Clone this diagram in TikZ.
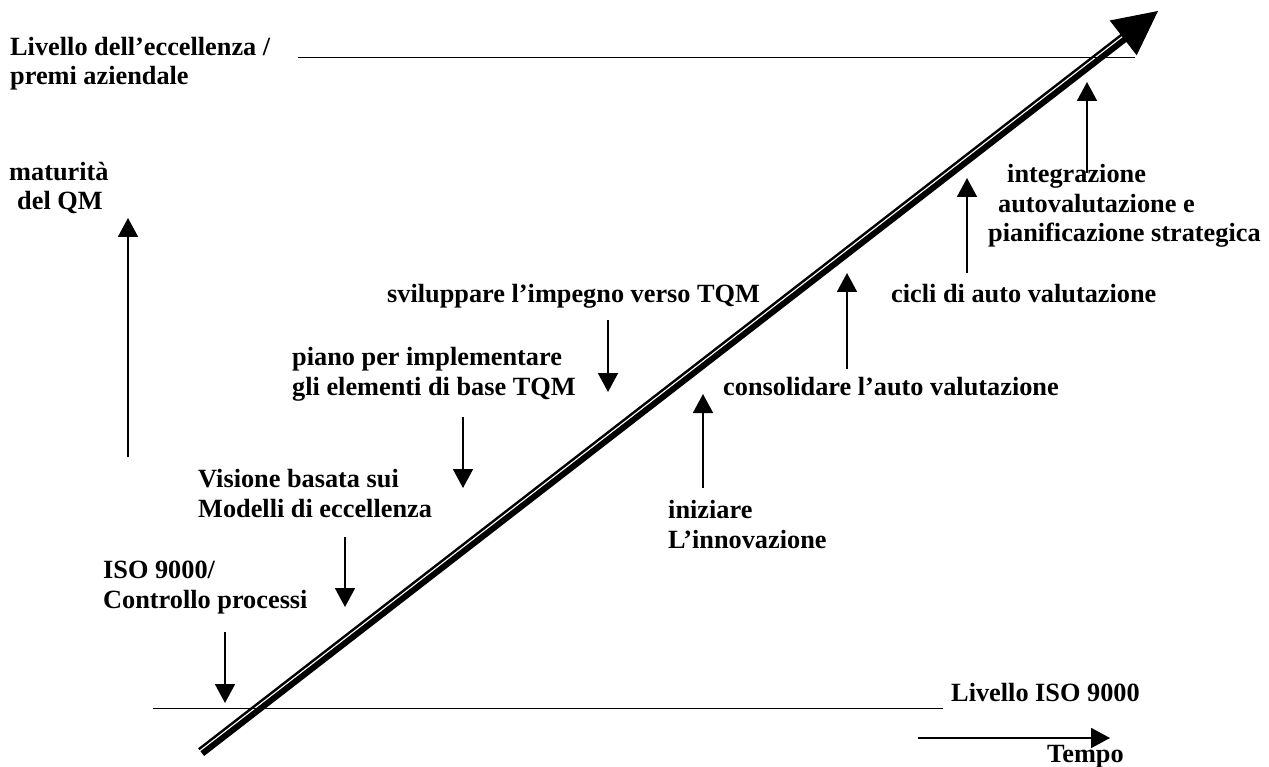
\documentclass[tikz,border=0pt]{standalone}
\usepackage{fontspec}
\setmainfont{Liberation Serif}
\usetikzlibrary{arrows.meta}
\begin{document}
\begin{tikzpicture}[x=1pt,y=-1pt,
  lbl/.style={anchor=base west, inner sep=0pt, align=left,
    font=\fontsize{26.3}{29.5}\selectfont\bfseries},
  ptr/.style={line width=1.8pt, -{Triangle[width=20pt,length=19pt]}},
  level/.style={line width=1.6pt},
  thinband/.style={line width=2.4pt},
  thickband/.style={line width=6pt}]
\useasboundingbox (0,0) rectangle (1269,767);

% level lines
\coordinate (topA) at (298,57.5);
\coordinate (topB) at (1135,57.5);
\draw[level] (topA) -- (topB);
\coordinate (isoA) at (153,708.5);
\coordinate (isoB) at (943,708.5);
\draw[level] (isoA) -- (isoB);

% big growth arrow (thin-thick double line)
\coordinate (tip) at (1158,11);
\coordinate (hl) at (1109.7,20.5);
\coordinate (hr) at (1136.7,55.3);
\coordinate (thinS) at (198.8,749.2);
\coordinate (thinE) at (1124.2,32.7);
\coordinate (thickS) at (202.3,753.6);
\coordinate (thickE) at (1127.7,37.1);
\draw[thinband] (thinS) -- (thinE);
\draw[thickband] (thickS) -- (thickE);
\fill (tip) -- (hl) -- (hr) -- cycle;

% labels (anchor = baseline of the last line)
\node[lbl] (ecc) at (10,85) {Livello dell’eccellenza /\\premi aziendale};
\node[lbl] (mat) at (9,210) {maturità\\\hspace*{8pt}del QM};
\node[lbl] (vis) at (198,517) {Visione basata sui\\Modelli di eccellenza};
\node[lbl] (iso) at (103,608) {ISO 9000/\\Controllo processi};
\node[lbl] (pia) at (292,395) {piano per implementare\\gli elementi di base TQM};
\node[lbl] (svi) at (387,303) {sviluppare l’impegno verso TQM};
\node[lbl] (con) at (723,395) {consolidare l’auto valutazione};
\node[lbl] (ini) at (668,548) {iniziare\\L’innovazione};
\node[lbl] (cic) at (891,302) {cicli di auto valutazione};
\node[lbl] (int) at (988,242) {\hspace*{19pt}integrazione\\\hspace*{10pt}autovalutazione e\\pianificazione strategica};
\node[lbl] (liso) at (951,701) {Livello ISO 9000};
\node[lbl] (tem) at (1047,762) {Tempo};

% pointer arrows
\coordinate (a1s) at (128,457); \coordinate (a1e) at (128,218);
\draw[ptr] (a1s) -- (a1e);
\coordinate (a2s) at (225,632); \coordinate (a2e) at (225,703);
\draw[ptr] (a2s) -- (a2e);
\coordinate (a3s) at (345,537); \coordinate (a3e) at (345,607);
\draw[ptr] (a3s) -- (a3e);
\coordinate (a4s) at (463,417); \coordinate (a4e) at (463,488);
\draw[ptr] (a4s) -- (a4e);
\coordinate (a5s) at (608,320); \coordinate (a5e) at (608,392);
\draw[ptr] (a5s) -- (a5e);
\coordinate (a6s) at (703,488); \coordinate (a6e) at (703,394);
\draw[ptr] (a6s) -- (a6e);
\coordinate (a7s) at (847,369); \coordinate (a7e) at (847,273);
\draw[ptr] (a7s) -- (a7e);
\coordinate (a8s) at (967,273); \coordinate (a8e) at (967,178);
\draw[ptr] (a8s) -- (a8e);
\coordinate (a9s) at (1087,173); \coordinate (a9e) at (1087,82);
\draw[ptr] (a9s) -- (a9e);
\coordinate (tS) at (918,738); \coordinate (tE) at (1110,738);
\draw[ptr] (tS) -- (tE);
\end{tikzpicture}
\end{document}
